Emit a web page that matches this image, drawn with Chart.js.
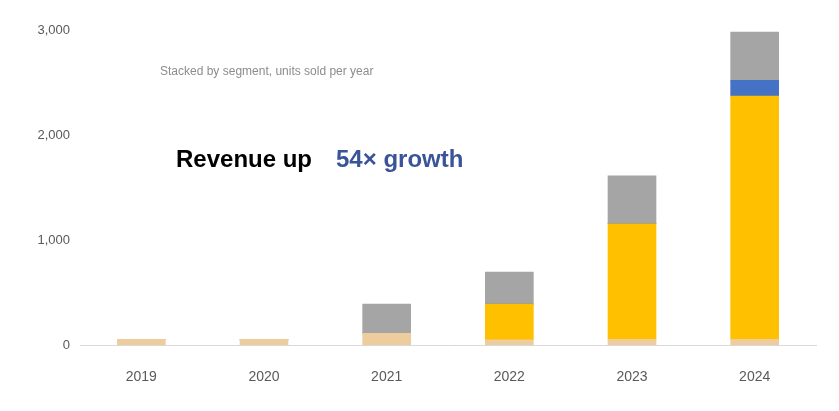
<!DOCTYPE html>
<html>
<head>
<meta charset="utf-8">
<script src="https://cdn.jsdelivr.net/npm/chart.js"></script>
<style>
  html, body { margin: 0; padding: 0; background: #fff; }
  #wrap { width: 839px; height: 411px; }
</style>
</head>
<body>
<div id="wrap"><canvas id="salesChart" width="839" height="411"></canvas></div>
<script>
// --- data ---
const categories = ['2019', '2020', '2021', '2022', '2023', '2024'];
const baseValues = [55, 55, 110, 50, 55, 55];
const productValues = [0, 0, 0, 340, 1100, 2315];
const servicesValues = [0, 0, 0, 0, 0, 150];
const otherValues = [0, 0, 280, 305, 455, 460];
const yTicks = [0, 1000, 2000, 3000];

// headline drawn inside the plot
const headlinePlugin = {
    id: 'headline',
    afterDatasetsDraw(chart) {
        const c = chart.ctx;
        c.save();
        c.textBaseline = 'middle';
        c.textAlign = 'left';
        c.font = '12px "Liberation Sans", Arial, sans-serif';
        c.fillStyle = '#8c8c8c';
        c.fillText('Stacked by segment, units sold per year', 160, 72);
        c.font = 'bold 24px "Liberation Sans", Arial, sans-serif';
        c.fillStyle = '#000000';
        c.fillText('Revenue up', 176, 160);
        c.fillStyle = '#3b5499';
        c.fillText('54\u00d7 growth', 336, 160);
        c.restore();
    }
};

new Chart(document.getElementById('salesChart').getContext('2d'), {
    type: 'bar',
    data: {
        labels: categories,
        datasets: [
            { label: 'Base', data: baseValues, backgroundColor: '#edcc9e' },
            { label: 'Product', data: productValues, backgroundColor: '#ffc000' },
            { label: 'Services', data: servicesValues, backgroundColor: '#4472c4' },
            { label: 'Other', data: otherValues, backgroundColor: '#a5a5a5' }
        ]
    },
    options: {
        responsive: false,
        animation: false,
        devicePixelRatio: 1,
        layout: { padding: { left: 8, right: 23, top: 30, bottom: 0 } },
        datasets: { bar: { barThickness: 48, borderWidth: 0 } },
        plugins: {
            legend: { display: false },
            tooltip: { enabled: false }
        },
        scales: {
            x: {
                stacked: true,
                grid: { display: false, drawTicks: false },
                border: { display: true, color: '#d9d9d9', width: 1 },
                ticks: {
                    color: '#595959',
                    padding: 24,
                    font: { size: 14, family: '"Liberation Sans", Arial, sans-serif' }
                },
                afterFit(scale) { scale.height = 66; }
            },
            y: {
                stacked: true,
                min: 0,
                max: 3000,
                afterBuildTicks(scale) { scale.ticks = yTicks.map(v => ({ value: v })); },
                grid: { display: false, drawTicks: false },
                border: { display: false },
                ticks: {
                    color: '#595959',
                    padding: 10,
                    font: { size: 13, family: '"Liberation Sans", Arial, sans-serif' },
                    callback: v => v.toLocaleString('en-US')
                },
                afterFit(scale) { scale.width = 72; }
            }
        }
    },
    plugins: [headlinePlugin]
});
</script>
</body>
</html>
